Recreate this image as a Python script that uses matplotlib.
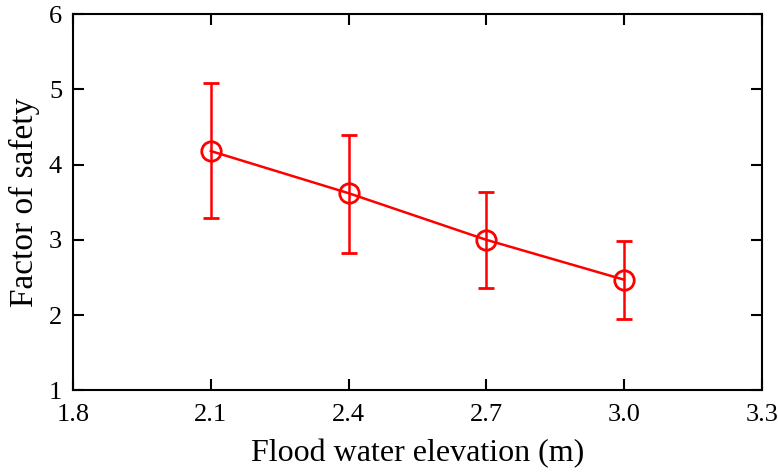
import matplotlib.pyplot as plt

# data
elevation = [2.1, 2.4, 2.7, 3.0]
fos_mean = [4.18, 3.62, 3.00, 2.47]
fos_upper = [5.08, 4.40, 3.63, 2.99]
fos_lower = [3.29, 2.83, 2.36, 1.95]

err_low = [m - lo for m, lo in zip(fos_mean, fos_lower)]
err_high = [hi - m for m, hi in zip(fos_mean, fos_upper)]

plt.rcParams['font.family'] = ['Liberation Serif', 'DejaVu Serif']

fig = plt.figure(figsize=(7.78, 4.73), dpi=100)
ax = fig.add_axes([0.094, 0.175, 0.885, 0.795])

ax.errorbar(elevation, fos_mean, yerr=[err_low, err_high],
            color='red', marker='o', markersize=14, markerfacecolor='none',
            markeredgewidth=2, linewidth=1.8, elinewidth=1.8,
            capsize=6, capthick=1.8)

ax.set_xlim(1.8, 3.3)
ax.set_ylim(1, 6)
ax.set_xticks([1.8, 2.1, 2.4, 2.7, 3.0, 3.3])
ax.set_xticklabels(['1.8', '2.1', '2.4', '2.7', '3.0', '3.3'])
ax.set_yticks([1, 2, 3, 4, 5, 6])

ax.tick_params(direction='in', top=True, right=True, length=8, width=1.5,
               labelsize=19)
ax.tick_params(axis='x', pad=10)
ax.tick_params(axis='y', pad=8)
for spine in ax.spines.values():
    spine.set_linewidth(1.5)

ax.set_xlabel('Flood water elevation (m)', fontsize=23, labelpad=9)
ax.set_ylabel('Factor of safety', fontsize=24, labelpad=6)

fig.savefig('out.png', dpi=100)
